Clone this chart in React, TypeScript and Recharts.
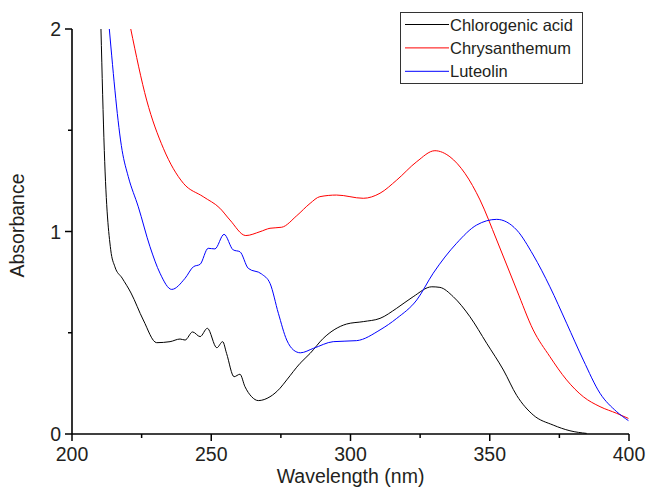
import React from 'react';
import { LineChart, Line, XAxis, YAxis } from 'recharts';

// UV-Vis absorbance spectra
const chlorogenicWl = [
  210.4, 211.6, 213.9, 215.4, 218, 221.2, 225.6, 230.4, 235.2, 238.8, 240.6, 243.3, 246, 248.6,
  252, 254.1, 255.5, 258.2, 260.3, 262.1, 264.5, 266.9, 271.1, 274.7, 277.1, 281.9, 285.5, 290.2,
  298.6, 304.6, 310.6, 316.6, 322.5, 329.2, 332.1, 336.9, 342.9, 348.9, 354.9, 359.7, 365.6,
  372.8, 378.8, 384.8,
];
const chlorogenicAbs = [
  2.0, 1.4, 0.91, 0.826, 0.77, 0.696, 0.563, 0.451, 0.456, 0.469, 0.464, 0.504, 0.481, 0.522,
  0.426, 0.456, 0.398, 0.283, 0.295, 0.234, 0.184, 0.165, 0.184, 0.226, 0.267, 0.349, 0.398, 0.472,
  0.543, 0.555, 0.571, 0.621, 0.678, 0.727, 0.724, 0.678, 0.579, 0.448, 0.316, 0.19, 0.094,
  0.044, 0.016, 0.003,
];

const chrysanthemumWl = [
  221.1, 226.8, 232.8, 240, 247.1, 253.1, 256.7, 262.4, 267.5, 271.1, 275.3, 280.7, 285.5, 289,
  295, 304.6, 310.6, 316.6, 323.8, 330.3, 335.7, 341.1, 346.5, 352.5, 359.7, 365.6, 371.6, 377.6,
  383.6, 389.6, 395.6, 399.8,
];
const chrysanthemumAbs = [
  2.0, 1.649, 1.411, 1.238, 1.172, 1.115, 1.057, 0.98, 0.999, 1.016, 1.021, 1.078, 1.139, 1.172,
  1.18, 1.164, 1.189, 1.254, 1.345, 1.399, 1.369, 1.287, 1.156, 0.958, 0.711, 0.514, 0.382, 0.267,
  0.184, 0.135, 0.102, 0.077,
];

const luteolinWl = [
  213.4, 218, 220.2, 223.8, 228, 231.6, 235.8, 240.6, 243.6, 246, 248.9, 251.3, 254.6, 257.9,
  260.3, 263.3, 268.1, 271.1, 274.1, 277.1, 279.5, 282, 286.7, 293.8, 302.2, 310.6, 316.6, 323.8,
  329.7, 338.1, 345.3, 352.5, 359.7, 365.6, 371.6, 377.6, 383.6, 389.6, 395.6, 399.8,
];
const luteolinAbs = [
  2.0, 1.4, 1.271, 1.122, 0.925, 0.794, 0.714, 0.769, 0.826, 0.838, 0.917, 0.914, 0.986, 0.909,
  0.9, 0.818, 0.79, 0.744, 0.596, 0.464, 0.415, 0.401, 0.423, 0.456, 0.461, 0.514, 0.571, 0.662,
  0.794, 0.942, 1.032, 1.06, 1.007, 0.884, 0.727, 0.547, 0.365, 0.201, 0.11, 0.066,
];

const xTicks = [200, 225, 250, 275, 300, 325, 350, 375, 400];
const xLabeled = [200, 250, 300, 350, 400];
const yTicks = [0, 0.5, 1, 1.5, 2];
const yLabeled = [0, 1, 2];

const toPoints = (wl: number[], abs: number[]) => wl.map((w, i) => ({ wl: w, abs: abs[i] }));

const series = [
  { name: 'Chlorogenic acid', color: '#000000', data: toPoints(chlorogenicWl, chlorogenicAbs) },
  { name: 'Chrysanthemum', color: '#ff0000', data: toPoints(chrysanthemumWl, chrysanthemumAbs) },
  { name: 'Luteolin', color: '#0000ff', data: toPoints(luteolinWl, luteolinAbs) },
];

const FONT = '"Liberation Sans", Arial, sans-serif';
const TEXT = '#231f20';

const XTick = ({ x, y, payload }: any) => {
  const major = xLabeled.includes(payload.value);
  return (
    <g>
      <line x1={x} x2={x} y1={y} y2={y + (major ? 7 : 4)} stroke="#000" strokeWidth={1.5} />
      {major && (
        <text x={x} y={y + 27} textAnchor="middle" fontSize={19.5} fontFamily={FONT} fill={TEXT}>
          {payload.value}
        </text>
      )}
    </g>
  );
};

const YTick = ({ x, y, payload }: any) => {
  const major = yLabeled.includes(payload.value);
  return (
    <g>
      <line x1={x} x2={x - (major ? 7 : 4)} y1={y} y2={y} stroke="#000" strokeWidth={1.5} />
      {major && (
        <text x={x - 11} y={y + 7} textAnchor="end" fontSize={19.5} fontFamily={FONT} fill={TEXT}>
          {payload.value}
        </text>
      )}
    </g>
  );
};

const XTitle = ({ viewBox }: any) => (
  <text
    x={viewBox.x + viewBox.width / 2}
    y={viewBox.y + 49}
    textAnchor="middle"
    fontSize={19.5}
    fontFamily={FONT}
    fill={TEXT}
  >
    Wavelength (nm)
  </text>
);

const YTitle = ({ viewBox }: any) => {
  const cx = 24;
  const cy = viewBox.y + viewBox.height / 2 - 6;
  return (
    <text
      x={cx}
      y={cy}
      transform={`rotate(-90, ${cx}, ${cy})`}
      textAnchor="middle"
      fontSize={19.5}
      fontFamily={FONT}
      fill={TEXT}
    >
      Absorbance
    </text>
  );
};

const LegendBox = () => (
  <svg
    width={183}
    height={72}
    style={{ position: 'absolute', left: 400, top: 12, background: '#fff' }}
  >
    <rect x={0.5} y={0.5} width={182} height={71} fill="#fff" stroke="#333" strokeWidth={1} />
    {series.map((s, i) => {
      const ly = 12.5 + i * 23.4;
      return (
        <g key={s.name}>
          <line x1={5} x2={49} y1={ly} y2={ly} stroke={s.color} strokeWidth={1} />
          <text x={50} y={ly + 6} fontSize={16.5} fontFamily={FONT} fill={TEXT}>
            {s.name}
          </text>
        </g>
      );
    })}
  </svg>
);

const App = () => {
  return (
    <div style={{ position: 'absolute', left: 0, top: 0, width: 646, height: 488, background: '#fff' }}>
      <LineChart width={646} height={488} margin={{ top: 29, right: 17, bottom: 0, left: 12 }}>
        <XAxis
          type="number"
          dataKey="wl"
          domain={[200, 400]}
          ticks={xTicks}
          interval={0}
          height={54}
          tickSize={0}
          tickMargin={0}
          tickLine={false}
          axisLine={{ stroke: '#000', strokeWidth: 1.6 }}
          tick={<XTick />}
          label={{ content: <XTitle /> }}
          allowDataOverflow
        />
        <YAxis
          type="number"
          domain={[0, 2]}
          ticks={yTicks}
          interval={0}
          width={60}
          tickSize={0}
          tickMargin={0}
          tickLine={false}
          axisLine={{ stroke: '#000', strokeWidth: 1.6 }}
          tick={<YTick />}
          label={{ content: <YTitle /> }}
          allowDataOverflow
        />
        {series.map((s) => (
          <Line
            key={s.name}
            data={s.data}
            dataKey="abs"
            name={s.name}
            type="monotone"
            stroke={s.color}
            strokeWidth={1}
            dot={false}
            activeDot={false}
            isAnimationActive={false}
          />
        ))}
      </LineChart>
      <LegendBox />
    </div>
  );
};

export default App;
